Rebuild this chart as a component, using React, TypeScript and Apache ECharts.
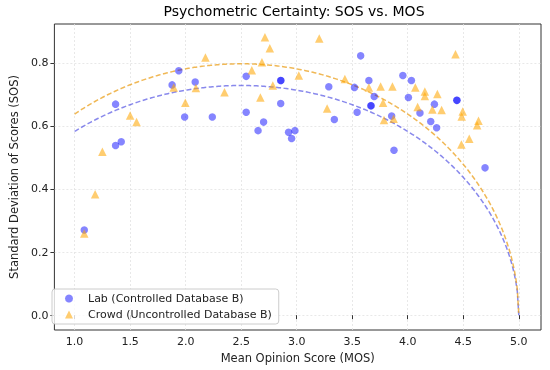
import React, { useEffect, useRef } from "react";
import * as echarts from "echarts";

const xTicks = [1.0, 1.5, 2.0, 2.5, 3.0, 3.5, 4.0, 4.5, 5.0];
const yTicks = [0.0, 0.2, 0.4, 0.6, 0.8];

// Lab (Controlled Database B): [MOS, SOS]
const labPoints: [number, number][] = [
  [1.087, 0.27], [1.369, 0.669], [1.369, 0.538], [1.42, 0.55], [1.878, 0.73],
  [1.938, 0.775], [1.991, 0.628], [2.086, 0.739], [2.24, 0.628], [2.545, 0.757],
  [2.545, 0.643], [2.652, 0.585], [2.702, 0.612], [2.856, 0.744], [2.858, 0.744],
  [2.856, 0.671], [2.927, 0.58], [2.954, 0.56], [2.984, 0.585], [3.289, 0.724],
  [3.339, 0.62], [3.52, 0.722], [3.544, 0.643], [3.576, 0.822], [3.65, 0.744],
  [3.668, 0.664], [3.67, 0.664], [3.698, 0.693], [3.855, 0.631], [3.876, 0.523],
  [3.956, 0.76], [4.006, 0.69], [4.033, 0.744], [4.11, 0.641], [4.207, 0.614],
  [4.24, 0.669], [4.26, 0.594], [4.442, 0.681], [4.443, 0.681], [4.696, 0.467],
];

// Crowd (Uncontrolled Database B): [MOS, SOS]
const crowdPoints: [number, number][] = [
  [1.087, 0.259], [1.185, 0.383], [1.25, 0.518], [1.5, 0.633], [1.558, 0.612],
  [1.893, 0.722], [1.997, 0.673], [2.092, 0.72], [2.178, 0.817], [2.35, 0.707],
  [2.596, 0.776], [2.673, 0.69], [2.687, 0.802], [2.714, 0.881], [2.758, 0.846],
  [2.785, 0.728], [3.019, 0.76], [3.203, 0.877], [3.274, 0.655], [3.434, 0.749],
  [3.65, 0.722], [3.756, 0.725], [3.778, 0.673], [3.786, 0.619], [3.862, 0.725],
  [3.873, 0.623], [4.068, 0.722], [4.089, 0.66], [4.154, 0.709], [4.154, 0.695],
  [4.222, 0.652], [4.267, 0.701], [4.305, 0.65], [4.43, 0.827], [4.483, 0.541],
  [4.486, 0.63], [4.495, 0.646], [4.554, 0.559], [4.625, 0.602], [4.637, 0.616],
];

// SOS hypothesis fits: SOS = sqrt(a * MOS * (5 - MOS))
const labFitA = 0.0848;
const crowdFitA = 0.1016;
const fitRange = [1, 5];
const fitSamples = 300;

function fitCurve(a: number): [number, number][] {
  const out: [number, number][] = [];
  for (let i = 0; i <= fitSamples; i++) {
    const x = fitRange[0] + ((fitRange[1] - fitRange[0]) * i) / fitSamples;
    const v = a * x * (5 - x);
    out.push([x, Math.sqrt(Math.max(0, v))]);
  }
  return out;
}

const FONT = "DejaVu Sans";

export default function App() {
  const ref = useRef<HTMLDivElement>(null);
  useEffect(() => {
    if (!ref.current) return;
    const chart = echarts.init(ref.current, undefined, { renderer: "svg" });
    chart.setOption({
      animation: false,
      textStyle: { fontFamily: FONT },
      graphic: [
        {
          type: "text",
          x: 294,
          y: 4,
          style: {
            text: "Psychometric Certainty: SOS vs. MOS",
            align: "center",
            verticalAlign: "top",
            fontFamily: FONT,
            fontSize: 14,
            fill: "#000",
          },
        },
      ],
      grid: {
        left: 47,
        right: 9,
        top: 24,
        bottom: 40,
        show: true,
        borderColor: "#333",
        borderWidth: 1,
        backgroundColor: "transparent",
      },
      legend: {
        orient: "vertical",
        left: 52,
        top: 289,
        padding: [3, 7, 3, 13],
        itemGap: 3,
        itemWidth: 8,
        itemHeight: 8,
        backgroundColor: "rgba(255,255,255,0.8)",
        borderColor: "#ccc",
        borderWidth: 1,
        borderRadius: 3,
        textStyle: {
          fontFamily: FONT,
          fontSize: 11,
          color: "#222",
          padding: [0, 0, 0, 10],
          lineHeight: 13,
        },
        data: [
          { name: "Lab (Controlled Database B)", icon: "circle" },
          { name: "Crowd (Uncontrolled Database B)", icon: "triangle" },
        ],
      },
      xAxis: {
        type: "value",
        min: 0.818,
        max: 5.2,
        name: "Mean Opinion Score (MOS)",
        nameLocation: "middle",
        nameGap: 17,
        nameTextStyle: { fontFamily: FONT, fontSize: 11.5, color: "#222" },
        axisLine: { show: false },
        axisTick: {
          show: true,
          customValues: xTicks,
          length: 4,
          lineStyle: { color: "#333" },
        },
        axisLabel: {
          customValues: xTicks,
          formatter: (v: number) => v.toFixed(1),
          fontFamily: FONT,
          fontSize: 11,
          color: "#222",
          margin: 6,
        },
        splitLine: {
          show: true,
          lineStyle: { color: "#e2e2e2", type: [2, 2], width: 0.8 },
        },
      },
      yAxis: {
        type: "value",
        min: -0.047,
        max: 0.923,
        name: "Standard Deviation of Scores (SOS)",
        nameLocation: "middle",
        nameGap: 32,
        nameTextStyle: { fontFamily: FONT, fontSize: 11.5, color: "#222" },
        axisLine: { show: false },
        axisTick: {
          show: true,
          customValues: yTicks,
          length: 4,
          lineStyle: { color: "#333" },
        },
        axisLabel: {
          customValues: yTicks,
          formatter: (v: number) => v.toFixed(1),
          fontFamily: FONT,
          fontSize: 11,
          color: "#222",
          margin: 6,
        },
        splitLine: {
          show: true,
          lineStyle: { color: "#e2e2e2", type: [2, 2], width: 0.8 },
        },
      },
      series: [
        {
          name: "Lab fit",
          type: "line",
          data: fitCurve(labFitA),
          showSymbol: false,
          symbol: "none",
          lineStyle: { color: "rgba(40,40,220,0.55)", width: 1.5, type: [5, 2.5] },
          z: 1,
        },
        {
          name: "Crowd fit",
          type: "line",
          data: fitCurve(crowdFitA),
          showSymbol: false,
          symbol: "none",
          lineStyle: { color: "rgba(235,160,30,0.75)", width: 1.5, type: [5, 2.5] },
          z: 1,
        },
        {
          name: "Lab (Controlled Database B)",
          type: "scatter",
          data: labPoints,
          symbol: "circle",
          symbolSize: 7.5,
          itemStyle: { color: "rgba(0,0,255,0.6)" },
          z: 3,
        },
        {
          name: "Crowd (Uncontrolled Database B)",
          type: "scatter",
          data: crowdPoints,
          symbol: "triangle",
          symbolSize: 8.5,
          itemStyle: { color: "rgba(255,165,0,0.7)" },
          z: 3,
        },
      ],
    });
    return () => chart.dispose();
  }, []);
  return (
    <div
      ref={ref}
      style={{ position: "fixed", left: 0, top: 0, width: 550, height: 370 }}
    />
  );
}
